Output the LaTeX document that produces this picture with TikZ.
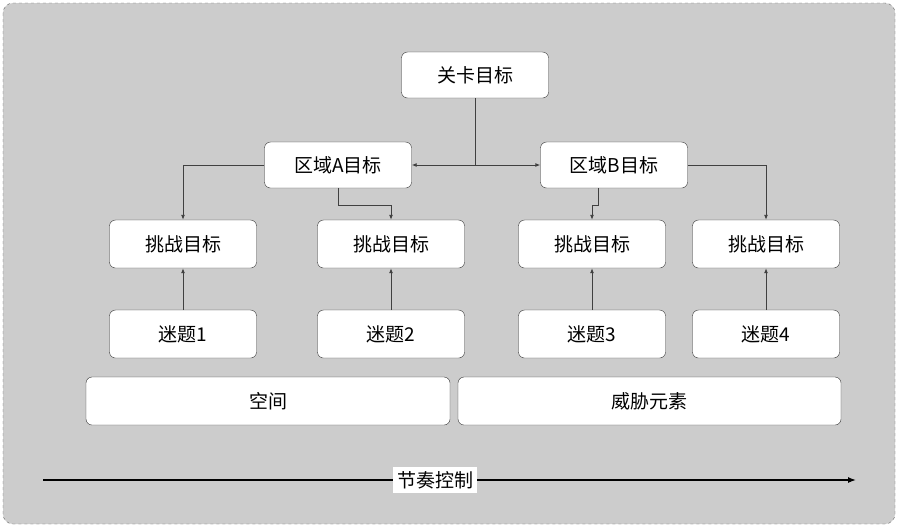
\documentclass[tikz,border=0pt]{standalone}
\usepackage{fontspec}
\setmainfont{Noto Sans CJK SC}
\usetikzlibrary{arrows.meta}

\tikzset{
  goalbox/.style={draw=black!80, fill=white, rounded corners=6pt, minimum width=147pt, minimum height=46pt, font=\fontsize{19}{22}\selectfont},
  widebox/.style={goalbox, minimum height=48pt},
  link/.style={draw=black!75, line width=0.9pt, -{Latex[length=5pt,width=4pt]}}
}

\begin{document}
\begin{tikzpicture}[x=1pt, y=-1pt]
\useasboundingbox (0,0) rectangle (899,528);
\draw[dashed, draw=black!60, fill=black!20, rounded corners=10pt] (3,3) rectangle (895,524);

\node[goalbox] (level) at (475,75) {关卡目标};
\node[goalbox] (areaA) at (338,165) {区域A目标};
\node[goalbox] (areaB) at (614,165) {区域B目标};

\node[widebox] (ch1) at (183,244) {挑战目标};
\node[widebox] (ch2) at (391,244) {挑战目标};
\node[widebox] (ch3) at (592,244) {挑战目标};
\node[widebox] (ch4) at (766,244) {挑战目标};

\node[widebox] (pz1) at (183,334) {迷题1};
\node[widebox] (pz2) at (391,334) {迷题2};
\node[widebox] (pz3) at (592,334) {迷题3};
\node[widebox] (pz4) at (766,334) {迷题4};

\node[goalbox, minimum width=364pt, minimum height=48pt] (space) at (268,401) {空间};
\node[goalbox, minimum width=383pt, minimum height=48pt] (threat) at (649.5,401) {威胁元素};

\coordinate (split) at (level |- areaA);
\draw[link] (level) -- (split) -- (areaA);
\draw[link] (split) -- (areaB);

\draw[link] (areaA.west) -| (ch1);
\draw[link] (areaA.south) -- ++(0,17) -| (ch2);
\draw[link] ([xshift=-16pt]areaB.south) -- ++(0,17) -| (ch3);
\draw[link] (areaB.east) -| (ch4);

\foreach \i in {1,...,4}
  \draw[link] (pz\i) -- (ch\i);

% rhythm axis
\coordinate (tstart) at (43,480);
\coordinate (tend) at (856,480);
\draw[line width=1.3pt, -{Latex[length=8pt,width=6pt]}] (tstart) -- (tend);
\node[fill=white, inner sep=4pt, font=\fontsize{19}{22}\selectfont] (rhythm) at (435,480) {节奏控制};
\end{tikzpicture}
\end{document}
